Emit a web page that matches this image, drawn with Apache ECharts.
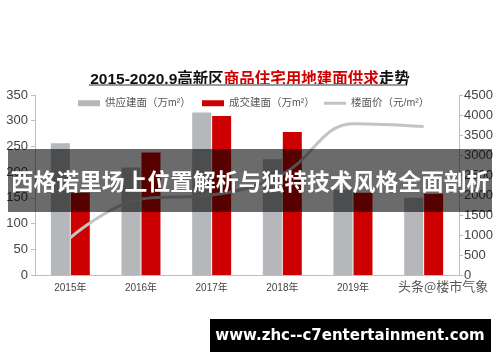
<!DOCTYPE html>
<html><head><meta charset="utf-8">
<script src="https://cdn.jsdelivr.net/npm/echarts@6/dist/echarts.min.js"></script>
<style>html,body{margin:0;padding:0;background:#fff}#c{width:500px;height:362px}</style>
</head><body><div id="c"></div>
<script>
var categories = ['2015年','2016年','2017年','2018年','2019年','2020年'];
var supplyArea = [256, 209, 316, 225, 166, 150];
var dealArea = [160, 238, 309, 278, 160, 158];
var landPrice = [930, 1900, 2000, 2520, 3780, 3710];
var leftTicks = [0, 350, 50];
var rightTicks = [0, 4500, 500];
var seriesNames = ['供应建面（万m²）','成交建面（万m²）','楼面价（元/m²）'];

var chart = echarts.init(document.getElementById('c'));
var F = '"Liberation Sans","Noto Sans CJK SC",sans-serif';
function lg(name, left, icon, h){
  return {left:left, top:98, padding:0, itemWidth:22, itemHeight:h, icon:icon,
    textStyle:{fontSize:10.5,color:'#555'}, data:[name]};
}
chart.setOption({
  animation:false,
  backgroundColor:'#fff',
  textStyle:{fontFamily:F},
  title:{
    text:'{b|2015-2020.9高新区}{r|商品住宅用地建面供求}{b|走势}',
    left:'center', top:67,
    textStyle:{rich:{
      b:{fontSize:15.5,fontWeight:'bold',color:'#111',fontFamily:F},
      r:{fontSize:15.5,fontWeight:'bold',color:'#d00000',fontFamily:F}
    }}
  },
  legend:[lg(seriesNames[0],78,'rect',6), lg(seriesNames[1],202,'rect',6), lg(seriesNames[2],324,'rect',3)],
  grid:{left:35,right:41,top:95,bottom:87},
  xAxis:{
    type:'category', data:categories,
    axisLine:{lineStyle:{color:'#bfbfbf'}},
    axisTick:{show:false},
    axisLabel:{fontSize:10,color:'#444',margin:8,
      formatter:function(v,i){return i===5?'':v;}}
  },
  yAxis:[{
    type:'value', min:leftTicks[0], max:leftTicks[1], interval:leftTicks[2],
    axisLine:{show:true,lineStyle:{color:'#bfbfbf'}},
    axisTick:{show:true,length:4,lineStyle:{color:'#bfbfbf'}},
    splitLine:{show:false},
    axisLabel:{fontSize:13,color:'#444',margin:7}
  },{
    type:'value', min:rightTicks[0], max:rightTicks[1], interval:rightTicks[2],
    position:'right',
    axisLine:{show:true,lineStyle:{color:'#bfbfbf'}},
    axisTick:{show:true,length:4,lineStyle:{color:'#bfbfbf'}},
    splitLine:{show:false},
    axisLabel:{fontSize:13,color:'#444',margin:5,formatter:function(v){return String(v);}}
  }],
  series:[{
    name:seriesNames[0], type:'bar', data:supplyArea, barWidth:19, barGap:'5%',
    itemStyle:{color:'#b5b7bb'}
  },{
    name:seriesNames[1], type:'bar', data:dealArea, barWidth:19,
    itemStyle:{color:'#cc0000'}
  },{
    name:seriesNames[2], type:'line', yAxisIndex:1, data:landPrice,
    smooth:0.4, symbol:'none', lineStyle:{color:'#c3c3c3',width:3},
    itemStyle:{color:'#c3c3c3'}, z:5
  }],
  graphic:[
    {type:'line',z:100,shape:{x1:89,y1:85,x2:406,y2:85},style:{stroke:'#9a9a9a',lineWidth:2}},
    {type:'text',z:100,left:398,top:280,style:{text:'头条@楼市气象',fill:'#555',font:'13px "Noto Sans CJK SC",sans-serif'}},
    {type:'rect',z:100,shape:{x:8,y:149,width:484,height:63},style:{fill:'rgba(0,0,0,0.58)'}},
    {type:'text',z:101,x:250,y:181,style:{text:'西格诺里场上位置解析与独特技术风格全面剖析',fill:'#fff',
      font:'bold 22.8px "Noto Sans CJK SC",sans-serif',textAlign:'center',textVerticalAlign:'middle'}},
    {type:'rect',z:100,shape:{x:210,y:319,width:281,height:33},style:{fill:'#000'}},
    {type:'text',z:101,x:350,y:336,style:{text:'www.zhc--c7entertainment.com',fill:'#fff',
      font:'bold 15px "DejaVu Sans",sans-serif',textAlign:'center',textVerticalAlign:'middle'}}
  ]
});
</script></body></html>
